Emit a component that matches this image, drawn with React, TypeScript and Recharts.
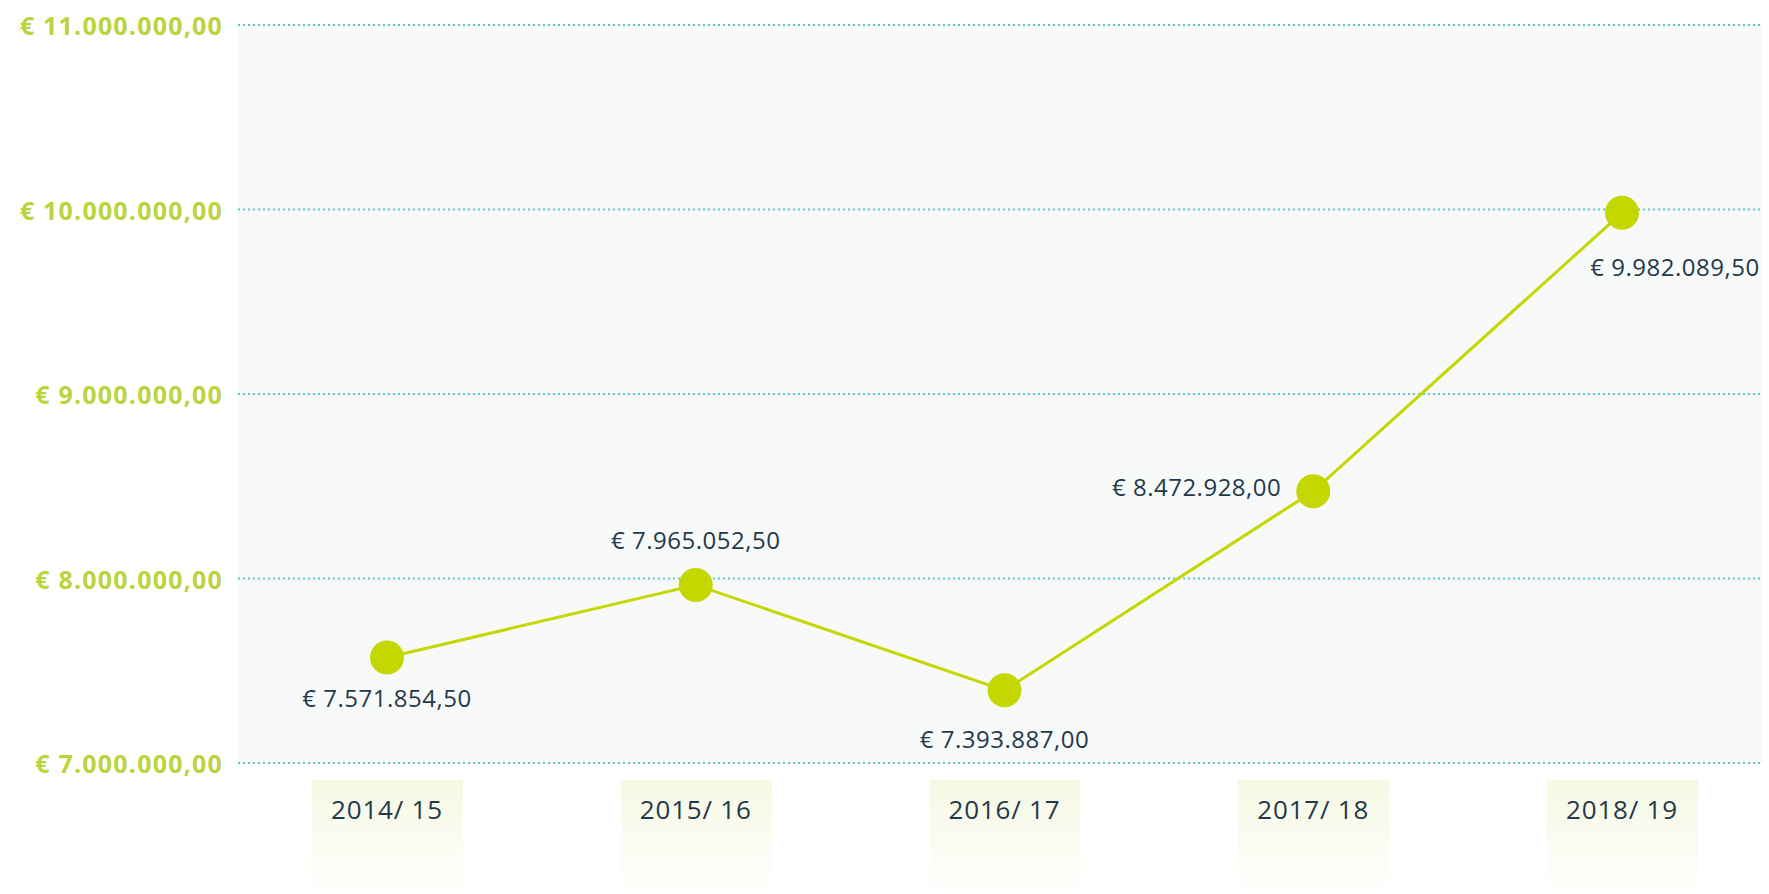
import React from "react";
import { LineChart, Line, XAxis, YAxis, CartesianGrid, LabelList } from "recharts";

const categories = ["2014/ 15", "2015/ 16", "2016/ 17", "2017/ 18", "2018/ 19"];
const values = [7571854.5, 7965052.5, 7393887.0, 8472928.0, 9982089.5];
const yTicks = [7000000, 8000000, 9000000, 10000000, 11000000];

const data = categories.map((c, i) => ({ name: c, value: values[i] }));

const fmt = (v: number) => {
  const fixed = v.toFixed(2);
  const [intPart, dec] = fixed.split(".");
  const withDots = intPart.replace(/\B(?=(\d{3})+(?!\d))/g, ".");
  return "€ " + withDots + "," + dec;
};

const FONT = "'Open Sans', sans-serif";
const GREEN = "#c4d700";
const LABEL_GREEN = "#b9d43c";
const DARK = "#23394a";

// label placement relative to each point (style only)
const labelPlacement = [
  { dx: 0, dy: 40, anchor: "middle" },
  { dx: 0, dy: -45, anchor: "middle" },
  { dx: 0, dy: 48, anchor: "middle" },
  { dx: -32, dy: -5, anchor: "end" },
  { dx: 53, dy: 54, anchor: "middle" },
];

const YTick = (props: any) => {
  const { x, y, payload } = props;
  return (
    <text x={x} y={y} textAnchor="end" dominantBaseline="central" fill={LABEL_GREEN}
      fontFamily={FONT} fontWeight={700} fontSize={25} letterSpacing={1.2}>
      {fmt(payload.value)}
    </text>
  );
};

const XTick = (props: any) => {
  const { x, y, payload } = props;
  return (
    <g>
      <rect x={x - 75} y={y + 17} width={151} height={118} fill="url(#tickBox)" />
      <text x={x} y={y + 46} textAnchor="middle" dominantBaseline="central" fill={DARK}
        fontFamily={FONT} fontSize={26} letterSpacing={0.8}>
        {payload.value}
      </text>
    </g>
  );
};

const PointLabel = (props: any) => {
  const { x, y, value, index } = props;
  const p = labelPlacement[index] || labelPlacement[0];
  return (
    <text x={x + p.dx} y={y + p.dy} textAnchor={p.anchor} dominantBaseline="central" fill={DARK}
      fontFamily={FONT} fontSize={24} letterSpacing={0.5}>
      {fmt(value)}
    </text>
  );
};

export default function App() {
  return (
    <div style={{ position: "absolute", left: 0, top: 0, width: 1769, height: 894, background: "#fff" }}>
      <LineChart width={1769} height={894} data={data} margin={{ top: 25, right: 6, bottom: 101, left: 0 }}>
        <defs>
          <linearGradient id="tickBox" x1="0" y1="0" x2="0" y2="1">
            <stop offset="0%" stopColor="#f6f8e3" />
            <stop offset="100%" stopColor="#ffffff" />
          </linearGradient>
        </defs>
        <CartesianGrid vertical={false} fill="#f8fafa" stroke="#62c4c8" strokeWidth={2}
          strokeDasharray="2 3" horizontalValues={yTicks} />
        <XAxis dataKey="name" axisLine={false} tickLine={false} tickSize={0} tickMargin={0} height={30}
          padding={{ left: 149, right: 141 }} tick={<XTick />} interval={0} />
        <YAxis domain={[7000000, 11000000]} ticks={yTicks} width={238} axisLine={false} tickLine={false}
          tickSize={0} tickMargin={15} tick={<YTick />} interval={0} />
        <Line type="linear" dataKey="value" stroke={GREEN} strokeWidth={3} isAnimationActive={false}
          dot={{ r: 17, fill: GREEN, stroke: "none" }} activeDot={false}>
          <LabelList dataKey="value" content={<PointLabel />} />
        </Line>
      </LineChart>
    </div>
  );
}
